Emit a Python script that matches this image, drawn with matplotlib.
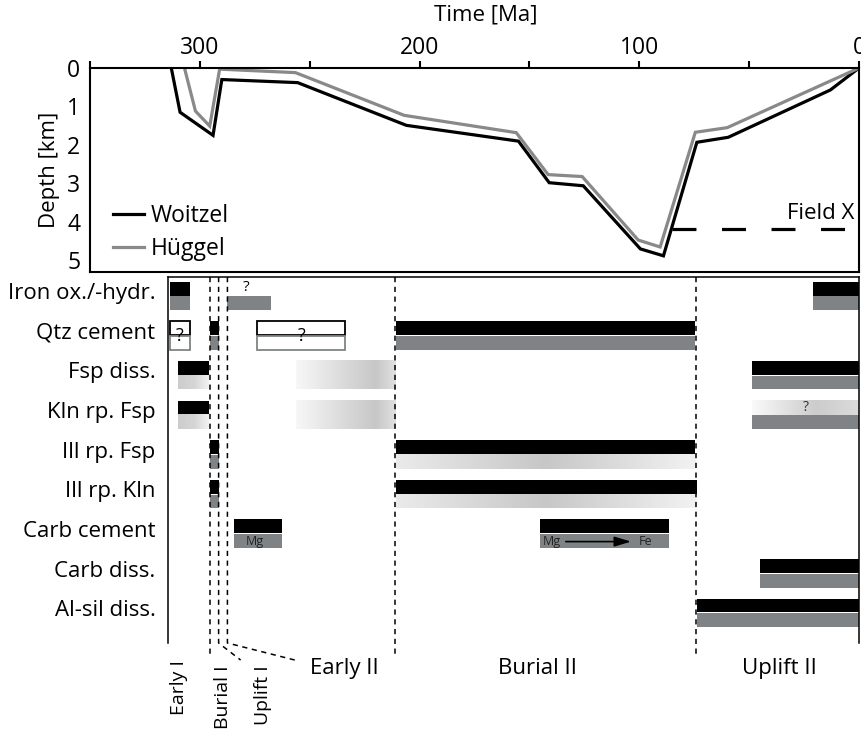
import matplotlib
matplotlib.use("Agg")
import matplotlib.pyplot as plt
import numpy as np

plt.rcParams['font.family'] = ['Open Sans', 'DejaVu Sans']

# ---------------- burial curves ----------------
woitzel_age = [313, 309, 294, 290, 255.5, 206, 155, 141, 125.5, 99.5, 89, 73.8, 59.5, 13, 0]
woitzel_depth = [0, 1.15, 1.75, 0.3, 0.38, 1.49, 1.9, 2.98, 3.06, 4.7, 4.88, 1.93, 1.8, 0.57, 0]
huggel_age = [307, 302, 295.5, 291, 256.5, 207, 156, 141.5, 126, 100.5, 90.5, 74.5, 60, 0]
huggel_depth = [0, 1.12, 1.51, 0.03, 0.12, 1.23, 1.68, 2.77, 2.82, 4.47, 4.65, 1.67, 1.55, 0]
field_x_age = [85, 0]
field_x_depth = [4.18, 4.18]

# ---------------- diagenetic processes ----------------
processes = ["Iron ox./-hydr.", "Qtz cement", "Fsp diss.", "Kln rp. Fsp",
             "Ill rp. Fsp", "Ill rp. Kln", "Carb cement", "Carb diss.", "Al-sil diss."]

# phase boundaries [Ma] and phase names
boundaries = [295, 291, 287, 211, 74]
phases_vertical = ["Early I", "Burial I", "Uplift I"]
phases_horizontal = ["Early II", "Burial II", "Uplift II"]

# (row, start Ma, end Ma, kind) ; kind: solid / open (uncertain) / fade (gradual)
woitzel_bars = [
    (0, 313, 304, "solid"), (0, 21, 0, "solid"),
    (1, 313, 304, "open"), (1, 295, 291, "solid"), (1, 273.5, 233.5, "open"), (1, 210.5, 74.5, "solid"),
    (2, 309.5, 295.5, "solid"), (2, 256, 211, "fade"), (2, 48.6, 0, "solid"),
    (3, 309.5, 295.5, "solid"), (3, 256, 211, "fade"), (3, 48.6, 0, "fade"),
    (4, 295, 291, "solid"), (4, 210.5, 74.5, "solid"),
    (5, 295, 291, "solid"), (5, 210.5, 73.6, "solid"),
    (6, 284, 262, "solid"), (6, 145, 86.4, "solid"),
    (7, 45, 0, "solid"),
    (8, 73.6, 0, "solid"),
]
huggel_bars = [
    (0, 313, 304, "solid"), (0, 287, 267, "solid"), (0, 21, 0, "solid"),
    (1, 313, 304, "open"), (1, 295, 291, "solid"), (1, 273.5, 233.5, "open"), (1, 210.5, 74.5, "solid"),
    (2, 309.5, 295.5, "fade"), (2, 256, 211, "fade"), (2, 48.6, 0, "solid"),
    (3, 309.5, 295.5, "fade"), (3, 256, 211, "fade"), (3, 48.6, 0, "solid"),
    (4, 295, 291, "solid"), (4, 210.5, 74.5, "fade"),
    (5, 295, 291, "solid"), (5, 210.5, 74.5, "fade"),
    (6, 284, 262, "solid"), (6, 145, 86.4, "solid"),
    (7, 45, 0, "solid"),
    (8, 73.6, 0, "solid"),
]

W, H = 862, 729
BLACK = "black"
GRAY = "#808385"
FS = 16

fig = plt.figure(figsize=(W / 100, H / 100), dpi=100)

# ================= top panel: burial history =================
ax1 = fig.add_axes([90 / W, 1 - 272 / H, 769 / W, 204 / H])
ax1.plot(woitzel_age, woitzel_depth, color=BLACK, lw=2.3, label="Woitzel", solid_joinstyle="miter")
ax1.plot(huggel_age, huggel_depth, color="#898989", lw=2.3, label="Hüggel", solid_joinstyle="miter")
ax1.plot(field_x_age, field_x_depth, color=BLACK, lw=2.3, dashes=(7.5, 8))
ax1.text(2, 3.78, "Field X", ha="right", va="center", fontsize=FS)

ax1.set_xlim(350, 0)
ax1.set_ylim(5.3, 0)
ax1.xaxis.tick_top()
ax1.xaxis.set_label_position("top")
ax1.set_xticks([350, 300, 250, 200, 150, 100, 50, 0])
ax1.set_xticklabels(["", "300", "", "200", "", "100", "", "0"])
ax1.set_yticks(range(6))
ax1.tick_params(axis="x", direction="out", length=5, width=1.5, labelsize=16.5, pad=1)
ax1.tick_params(axis="y", length=0, labelsize=16.5, pad=7)
ax1.set_xlabel("Time [Ma]", fontsize=FS)
ax1.xaxis.set_label_coords((486 - 90) / 769, (272 - 20) / 204)
ax1.set_ylabel("Depth [km]", fontsize=FS, labelpad=5)
for s in ax1.spines.values():
    s.set_linewidth(1.5)
ax1.legend(loc="lower left", bbox_to_anchor=(0.03, 0.055), frameon=False, fontsize=16.5,
           handlelength=1.35, handletextpad=0.3, borderpad=0, borderaxespad=0, labelspacing=0.4)

# ================= lower panel: paragenesis =================
ax2 = fig.add_axes([168 / W, 1 - 643 / H, 691 / W, 366 / H])
ax2.set_xlim(314, 0)
ax2.set_ylim(8.76, -0.48)

HB = 0.36   # bar half height
GAP = 0.012


def fade_bar(ax, t0, t1, y0, y1):
    # gradual process: grey fading in and out
    if t0 > 300:
        stops = ([0, 0.55, 1], [0.80, 0.84, 0.95])
    elif t0 > 240:
        stops = ([0, 0.8, 1], [0.97, 0.78, 0.88])
    elif t0 > 100:
        stops = ([0, 0.5, 1], [0.92, 0.78, 0.95])
    else:
        stops = ([0, 0.6, 1], [0.98, 0.80, 0.86])
    pos = np.linspace(0, 1, 256)
    g = np.interp(pos, stops[0], stops[1])
    img = np.repeat(g[None, :, None], 3, axis=2)
    ax.imshow(img, extent=(t0, t1, y1, y0), aspect="auto", interpolation="bilinear", zorder=1)


def draw_bars(ax, bars, color, upper):
    for row, t0, t1, kind in bars:
        gap = 0 if kind == "fade" else GAP
        if upper:
            y0, y1 = row - HB, row - gap
        else:
            y0, y1 = row + gap, row + HB
        if kind == "solid":
            ax.fill_between([t0, t1], y0, y1, color=color, lw=0, zorder=2)
        elif kind == "open":
            ax.add_patch(plt.Rectangle((t0, y0), t1 - t0, y1 - y0, facecolor="white",
                                       edgecolor=color, lw=1.3, zorder=2))
        else:
            fade_bar(ax, t0, t1, y0, y1)


draw_bars(ax2, woitzel_bars, BLACK, True)
draw_bars(ax2, huggel_bars, GRAY, False)

# uncertainty marks and notes
ax2.text(278.5, -0.22, "?", ha="center", va="center", fontsize=11, zorder=4)
ax2.text(308.5, 1.0, "?", ha="center", va="center", fontsize=13, zorder=4)
ax2.text(253.5, 1.0, "?", ha="center", va="center", fontsize=13, zorder=4)
ax2.text(24.3, 3 - 0.18, "?", ha="center", va="center", fontsize=10, color="#333333", zorder=4)
ax2.text(274.5, 6 + 0.2, "Mg", ha="center", va="center", fontsize=9, color="#222222", zorder=4)
ax2.text(139.5, 6 + 0.2, "Mg", ha="center", va="center", fontsize=9, color="#222222", zorder=4)
ax2.text(96.8, 6 + 0.2, "Fe", ha="center", va="center", fontsize=9, color="#222222", zorder=4)
ax2.annotate("", xy=(102.3, 6.2), xytext=(134.5, 6.2),
             arrowprops=dict(arrowstyle="-|>,head_length=1.0,head_width=0.3", color="black", lw=1.2),
             zorder=4)

# phase boundaries
bottom_straight = 9.14
bottom_kink = 8.76
dash_kw = dict(color="black", lw=1.1, dashes=(3.4, 3.0), clip_on=False, zorder=3)
leader_ends = {291: (281, 9.19), 287: (256.4, 9.19)}
for b in boundaries:
    if b in leader_ends:
        xe, ye = leader_ends[b]
        ax2.plot([b, b, xe], [-0.48, bottom_kink, ye], **dash_kw)
    else:
        ax2.plot([b, b], [-0.48, bottom_straight], **dash_kw)

for name, t, top in zip(phases_vertical, [309, 289, 271], [9.2, 9.32, 9.32]):
    ax2.text(t, top, name, rotation=90, ha="center", va="top", fontsize=14, clip_on=False)
for name, t in zip(phases_horizontal, [234, 146, 36]):
    ax2.text(t, 9.4, name, ha="center", va="center", fontsize=FS, clip_on=False)

ax2.set_xticks([])
ax2.set_yticks(np.arange(len(processes)) - 0.12)
ax2.set_yticklabels(processes)
ax2.tick_params(axis="y", length=0, labelsize=FS, pad=9)
ax2.spines["bottom"].set_visible(False)
for s in ["left", "right", "top"]:
    ax2.spines[s].set_linewidth(1.1)

fig.savefig("out.png", dpi=100)
